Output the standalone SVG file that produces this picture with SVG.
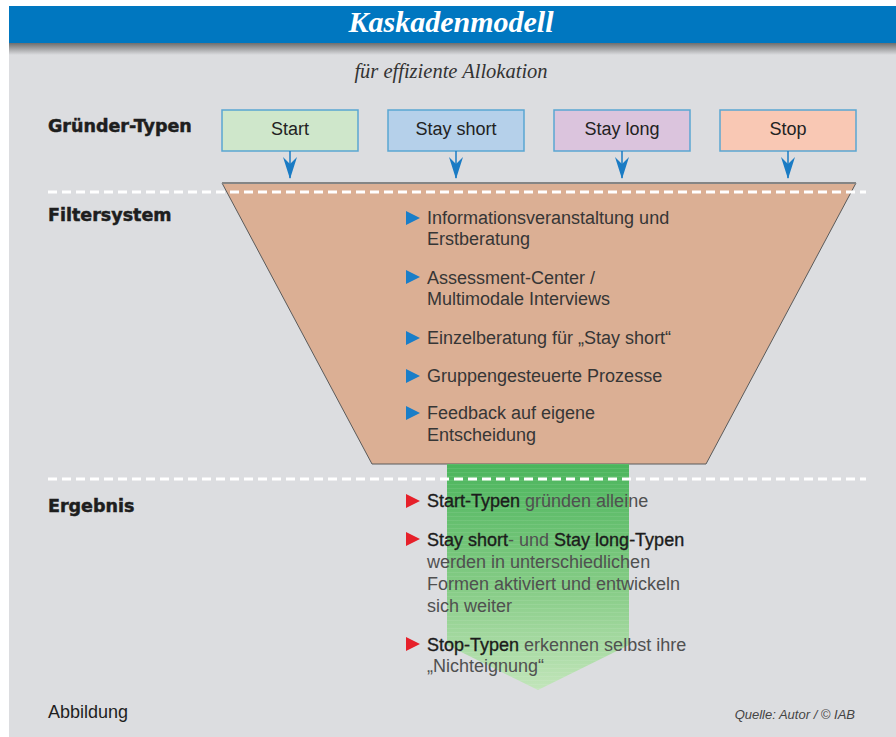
<svg xmlns="http://www.w3.org/2000/svg" width="896" height="737" viewBox="0 0 896 737">
<defs>
<linearGradient id="shadow" x1="0" y1="0" x2="0" y2="1">
<stop offset="0" stop-color="#6e6e6e"/>
<stop offset="1" stop-color="#dcdde0"/>
</linearGradient>
<linearGradient id="green" gradientUnits="userSpaceOnUse" x1="0" y1="464" x2="0" y2="690">
<stop offset="0" stop-color="#4bb55c"/>
<stop offset="0.55" stop-color="#86cc86"/>
<stop offset="1" stop-color="#c2e5ba"/>
</linearGradient>
<pattern id="stripes" patternUnits="userSpaceOnUse" width="8" height="4">
<rect x="0" y="0" width="8" height="1" fill="#ffffff" fill-opacity="0.08"/>
</pattern>
<marker id="arr" viewBox="0 0 22 14" refX="21" refY="7" markerWidth="22" markerHeight="14" markerUnits="userSpaceOnUse" orient="auto">
<path d="M22,7 L0,0 L7,7 L0,14 Z" fill="#1a7bc4"/>
</marker>
</defs>
<style>
.sec{font-family:"DejaVu Sans",sans-serif;font-weight:bold;font-size:17.5px;fill:#1e1e1e;stroke:#1e1e1e;stroke-width:0.5}
.box{stroke:#5aa6d2;stroke-width:1.5}
.blab{font-family:"Liberation Sans",Arial,sans-serif;font-size:18px;fill:#222;text-anchor:middle}
.ft{font-family:"Liberation Sans",Arial,sans-serif;font-size:18px;fill:#363636}
.et{font-family:"Liberation Sans",Arial,sans-serif;font-size:18px;fill:#505050}
.eb{fill:#1c1c1c;stroke:#1c1c1c;stroke-width:0.35}
.conn{stroke:#1a7bc4;stroke-width:1.5;fill:none}
.dash{stroke:#ffffff;stroke-width:3;stroke-dasharray:9 5;fill:none}
.tb{fill:#1a7ec8}
.tr{fill:#e6202a}
</style>

<rect x="9" y="6" width="887" height="731" fill="#dcdde0"/>
<rect x="9" y="6" width="887" height="37" fill="#0077c0"/>
<rect x="9" y="43" width="887" height="12" fill="url(#shadow)"/>
<text x="451" y="32" font-family="Liberation Serif,'Times New Roman',serif" font-style="italic" font-weight="bold" font-size="30" fill="#ffffff" text-anchor="middle">Kaskadenmodell</text>
<text x="451" y="78" font-family="Liberation Serif,'Times New Roman',serif" font-style="italic" font-size="20.5" fill="#333" text-anchor="middle">für effiziente Allokation</text>

<text class="sec" x="48" y="132">Gründer-Typen</text>
<text class="sec" x="48" y="221">Filtersystem</text>
<text class="sec" x="48" y="512">Ergebnis</text>

<g id="start">
<rect class="box" x="222" y="110" width="136" height="41" fill="#cfe7cb"/>
<text class="blab" x="290" y="135">Start</text>
</g>
<g id="stayshort">
<rect class="box" x="388" y="110" width="136" height="41" fill="#b5d0ea"/>
<text class="blab" x="456" y="135">Stay short</text>
</g>
<g id="staylong">
<rect class="box" x="554" y="110" width="136" height="41" fill="#dbc4dd"/>
<text class="blab" x="622" y="135">Stay long</text>
</g>
<g id="stop">
<rect class="box" x="720" y="110" width="136" height="41" fill="#f9c8b4"/>
<text class="blab" x="788" y="135">Stop</text>
</g>

<g id="filtersystem">
<polygon points="222,183 856,183 706,464 372,464" fill="#dbaf94" stroke="#5a5a5a" stroke-width="1"/>
<line x1="222" y1="183" x2="856" y2="183" stroke="#858585" stroke-width="2"/>
<path class="tb" d="M406,211 L420,218 L406,225 Z"/>
<text class="ft" x="427" y="224">Informationsveranstaltung und</text>
<text class="ft" x="427" y="245">Erstberatung</text>
<path class="tb" d="M406,270 L420,277 L406,284 Z"/>
<text class="ft" x="427" y="283.5">Assessment-Center /</text>
<text class="ft" x="427" y="305">Multimodale Interviews</text>
<path class="tb" d="M406,331 L420,338 L406,345 Z"/>
<text class="ft" x="427" y="344">Einzelberatung für „Stay short“</text>
<path class="tb" d="M406,369 L420,376 L406,383 Z"/>
<text class="ft" x="427" y="382">Gruppengesteuerte Prozesse</text>
<path class="tb" d="M406,406 L420,413 L406,420 Z"/>
<text class="ft" x="427" y="419">Feedback auf eigene</text>
<text class="ft" x="427" y="441">Entscheidung</text>
</g>

<g id="ergebnis">
<path d="M447,464 L629,464 L629,645 L538,690 L447,645 Z" fill="url(#green)"/>
<path d="M447,464 L629,464 L629,645 L538,690 L447,645 Z" fill="url(#stripes)"/>
</g>

<g id="separators">
<line class="dash" x1="48" y1="192" x2="866" y2="192"/>
<line class="dash" x1="48" y1="479" x2="866" y2="479"/>
</g>

<g id="ergebnis-text">
<path class="tr" d="M406,494 L420,501 L406,508 Z"/>
<text class="et" x="427" y="507"><tspan class="eb">Start-Typen</tspan> gründen alleine</text>
<path class="tr" d="M406,532 L420,539 L406,546 Z"/>
<text class="et" x="427" y="545.5"><tspan class="eb">Stay short</tspan>- und <tspan class="eb">Stay long-Typen</tspan></text>
<text class="et" x="427" y="567.5">werden in unterschiedlichen</text>
<text class="et" x="427" y="589.5">Formen aktiviert und entwickeln</text>
<text class="et" x="427" y="611.5">sich weiter</text>
<path class="tr" d="M406,637 L420,644 L406,651 Z"/>
<text class="et" x="427" y="650.5"><tspan class="eb">Stop-Typen</tspan> erkennen selbst ihre</text>
<text class="et" x="427" y="672">„Nichteignung“</text>
</g>

<g id="connectors">
<line class="conn" x1="290" y1="151" x2="290" y2="178" marker-end="url(#arr)"/>
<line class="conn" x1="456" y1="151" x2="456" y2="178" marker-end="url(#arr)"/>
<line class="conn" x1="622" y1="151" x2="622" y2="178" marker-end="url(#arr)"/>
<line class="conn" x1="788" y1="151" x2="788" y2="178" marker-end="url(#arr)"/>
</g>

<text x="48" y="718" font-family="Liberation Sans,Arial,sans-serif" font-size="18" fill="#1e1e1e">Abbildung</text>
<text x="855" y="719" font-family="Liberation Sans,Arial,sans-serif" font-style="italic" font-size="13" fill="#444" text-anchor="end">Quelle: Autor / © IAB</text>
</svg>
